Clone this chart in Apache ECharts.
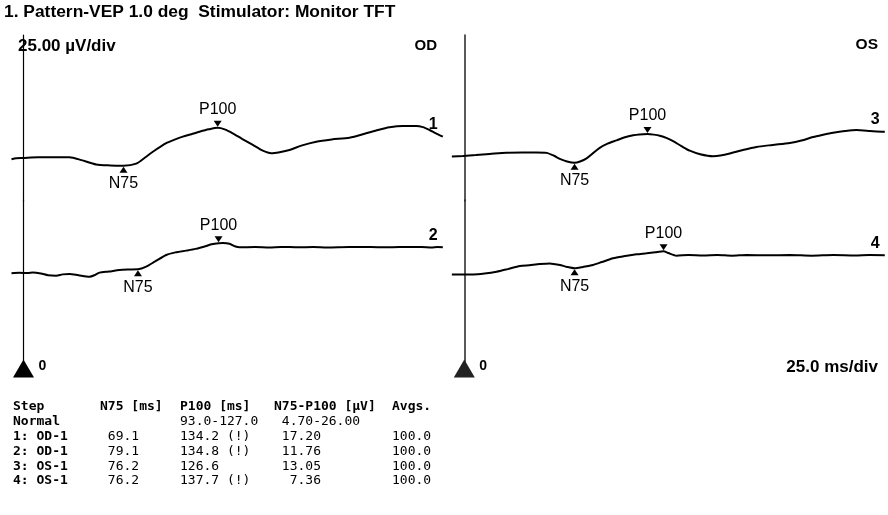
<!DOCTYPE html>
<html><head><meta charset="utf-8">
<script src="https://cdn.jsdelivr.net/npm/echarts@6/dist/echarts.min.js"></script>
<style>html,body{margin:0;padding:0;background:#fff}#c{width:888px;height:515px}</style>
</head><body><div id="c"></div>
<script>
// ---------- data ----------
const titleText = '1. Pattern-VEP 1.0 deg  Stimulator: Monitor TFT';
const voltScaleText = '25.00 \u00b5V/div';
const timeScaleText = '25.0 ms/div';
const eyeLabels = ['OD', 'OS'];
const originLabel = '0';
const traceNames = ['1', '2', '3', '4'];
const peakNames = ['N75', 'P100'];

// [ms, µV] samples
const trace1 = [[-8.3,-0.8],[-5,-0.3],[-0.5,-0.2],[10,0.1],[20,0.1],[31.8,0.1],[40,-1.2],[50.2,-3.2],[60,-3.6],[69.1,-3.7],[77.9,-2.8],[84,0.0],[89.4,2.6],[98.6,6.5],[104,8.0],[110.1,9.5],[116,10.6],[121.6,11.7],[128,12.8],[134.2,13.5],[139,12.8],[144.6,11.0],[151,8.5],[158.5,5.7],[165,3.2],[171.2,1.9],[177,2.4],[183.8,3.4],[192,5.4],[202.3,7.2],[213,8.2],[225.3,9.0],[236.8,11.0],[245,12.5],[252.9,13.7],[262,14.3],[271.4,14.3],[276,13.8],[280.6,12.5],[285,11.0],[289.8,9.5]];
const trace2 = [[-8.3,0.1],[-3,0.3],[3,0.2],[6.4,0.4],[12,0.0],[17,-0.8],[22.6,-1.0],[27,-0.4],[31.8,-0.2],[38,-0.8],[45.6,-1.5],[49,-0.8],[52.5,0.4],[59,0.9],[66.3,1.6],[72,1.8],[79.1,1.9],[84.8,3.1],[91,5.5],[98.6,8.4],[105,9.6],[112.4,10.4],[119,11.2],[126.3,12.5],[130,13.3],[134.8,13.8],[138,13.9],[142.4,13.5],[146,12.4],[149.3,11.9],[160,12.0],[170,11.8],[178,12.1],[190,11.9],[200,12.0],[210,11.8],[225,12.0],[240,12.0],[250,11.9],[260,12.0],[275,12.0],[282,11.8],[286,12.1],[289.8,11.9]];
const trace3 = [[-8.6,0.4],[-0.8,0.7],[8,1.1],[17.6,1.6],[29.2,2.2],[40,2.3],[50,2.3],[56.8,2.1],[62,0.8],[66,-0.6],[71,-1.8],[76.2,-2.4],[80,-1.8],[84.5,-0.4],[89,2.0],[93.6,4.4],[99,6.3],[105.2,7.8],[111,9.2],[116.7,10.1],[121,10.5],[126.6,10.7],[131,10.4],[135.1,9.9],[140,8.8],[144.3,7.4],[150,5.2],[155.8,3.1],[163,1.5],[171.9,0.6],[177,0.9],[183.5,1.8],[192,3.3],[201.9,4.8],[213,5.7],[225,6.6],[233,7.7],[241.1,9.3],[248,10.3],[254.9,11.2],[263,12.0],[271,12.5],[276,12.3],[280.2,12.0],[285,11.8],[290.6,11.7]];
const trace4 = [[-8.6,-0.4],[0,-0.4],[6.1,-0.4],[14,0.0],[22.3,0.8],[30,2.0],[38.4,3.4],[45,3.8],[52,4.3],[59.1,4.6],[63,4.2],[66,3.9],[71,3.0],[76.2,2.4],[82,3.0],[89,3.9],[95,5.2],[102.8,6.9],[110,7.8],[119,8.7],[126,9.2],[132,9.7],[137.7,10.1],[141,9.3],[146.7,8.1],[155,8.4],[165,8.2],[175,8.4],[185,8.1],[195,8.4],[210,8.3],[225,8.4],[240,8.1],[255,8.4],[270,8.2],[280,8.4],[290.6,8.3]];

// table
const tableHeaders = ['Step', 'N75 [ms]', 'P100 [ms]', 'N75-P100 [\u00b5V]', 'Avgs.'];
const normalRow = ['Normal', '', '93.0-127.0', '4.70-26.00', ''];
const stepLabels = ['1: OD-1', '2: OD-1', '3: OS-1', '4: OS-1'];
const n75Ms = [69.1, 79.1, 76.2, 76.2];
const p100Ms = [134.2, 134.8, 126.6, 137.7];
const p100Flags = [' (!)', ' (!)', '', ' (!)'];
const ampUv = ['17.20', '11.76', '13.05', '7.36'];
const avgs = ['100.0', '100.0', '100.0', '100.0'];

// ---------- layout ----------
const traces = [trace1, trace2, trace3, trace4];
const PX_PER_MS = 1.447, PX_PER_UV = 2.2;
const X_MIN = -10, X_MAX = 292;
const panelZeroX = [23.5, 464.3];
const rowTop = [35, 200], rowBottom = [201, 368.5], rowBase = [157.5, 273.5];
const axisColors = ['#000', '#222'];
const axisWidths = [1.2, 1.5];
const upTriangleRotated = 'path://M0,0L21,0L10.5,18Z';

function valueAt(trace, t) {
  for (let k = 1; k < trace.length; k++) {
    if (trace[k][0] >= t) {
      const a = trace[k - 1], b = trace[k];
      return a[1] + (b[1] - a[1]) * (t - a[0]) / (b[0] - a[0]);
    }
  }
  return trace[trace.length - 1][1];
}

const grids = [], xAxes = [], yAxes = [], series = [];
traces.forEach((tr, i) => {
  const panel = i < 2 ? 0 : 1;
  const row = i % 2;
  grids.push({
    left: panelZeroX[panel] + X_MIN * PX_PER_MS,
    width: (X_MAX - X_MIN) * PX_PER_MS,
    top: rowTop[row],
    height: rowBottom[row] - rowTop[row],
    containLabel: false,
    outerBoundsMode: 'none'
  });
  xAxes.push({
    type: 'value', gridIndex: i, min: X_MIN, max: X_MAX, show: false,
    axisLine: { onZero: false }
  });
  yAxes.push({
    type: 'value', gridIndex: i,
    min: -(rowBottom[row] - rowBase[row]) / PX_PER_UV,
    max: (rowBase[row] - rowTop[row]) / PX_PER_UV,
    axisLine: {
      show: true, onZero: true,
      lineStyle: { color: axisColors[panel], width: axisWidths[panel] },
      symbol: row === 1 ? [upTriangleRotated, 'none'] : ['none', 'none'],
      symbolSize: [21, 18]
    },
    axisTick: { show: false }, axisLabel: { show: false }, splitLine: { show: false }
  });
  series.push({
    type: 'line', xAxisIndex: i, yAxisIndex: i, data: tr,
    showSymbol: false, smooth: 0.25, silent: true, animation: false,
    lineStyle: { color: '#000', width: 2 },
    endLabel: {
      show: true, formatter: traceNames[i], color: '#000',
      fontFamily: '"Liberation Sans", Arial, sans-serif', fontWeight: 'bold', fontSize: 16,
      offset: [-22, -12]
    },
    markPoint: {
      silent: true, animation: false,
      itemStyle: { color: '#000' },
      label: { color: '#000', fontFamily: '"Liberation Sans", Arial, sans-serif', fontSize: 16 },
      data: [
        { coord: [n75Ms[i], valueAt(tr, n75Ms[i])], symbol: 'triangle', symbolSize: [8, 6], symbolOffset: [0, 4],
          label: { show: true, formatter: peakNames[0], position: 'bottom', distance: 3 } },
        { coord: [p100Ms[i], valueAt(tr, p100Ms[i])], symbol: 'path://M0,0L2,0L1,1.5Z', symbolSize: [8, 6], symbolOffset: [0, -4],
          label: { show: true, formatter: peakNames[1], position: 'top', distance: 3 } }
      ]
    }
  });
});

// ---------- texts ----------
const sansBold = (s) => 'bold ' + s + 'px "Liberation Sans", Arial, sans-serif';
const mono = '13px "DejaVu Sans Mono", monospace';
const monoBold = 'bold 13px "DejaVu Sans Mono", monospace';
const charW = 13 * 0.602;
function txt(x, y, text, font, align) {
  return { type: 'text', x: x, y: y, silent: true,
    style: { text: text, font: font, fill: '#000', align: align || 'left', verticalAlign: 'middle' } };
}
const graphics = [
  txt(4, 12, titleText, sansBold(17.4)),
  txt(18, 46, voltScaleText, sansBold(17)),
  txt(437, 46, eyeLabels[0], sansBold(15), 'right'),
  txt(878, 45, eyeLabels[1], sansBold(15.5), 'right'),
  txt(panelZeroX[0] + 15, 366, originLabel, sansBold(14)),
  txt(panelZeroX[1] + 15, 366, originLabel, sansBold(14)),
  txt(878, 367, timeScaleText, sansBold(17), 'right')
];
const colX = [13, 100, 180, 274, 392];
const rowY0 = 407, rowDY = 14.8;
tableHeaders.forEach((h, c) => graphics.push(txt(colX[c], rowY0, h, monoBold)));
graphics.push(txt(colX[0], rowY0 + rowDY, normalRow[0], monoBold));
graphics.push(txt(colX[2], rowY0 + rowDY, normalRow[2], mono));
graphics.push(txt(colX[3] + charW, rowY0 + rowDY, normalRow[3], mono));
stepLabels.forEach((s, r) => {
  const y = rowY0 + rowDY * (r + 2);
  graphics.push(txt(colX[0], y, s, monoBold));
  graphics.push(txt(colX[1] + 5 * charW, y, n75Ms[r].toFixed(1), mono, 'right'));
  graphics.push(txt(colX[2], y, p100Ms[r].toFixed(1) + p100Flags[r], mono));
  graphics.push(txt(colX[3] + 6 * charW, y, ampUv[r], mono, 'right'));
  graphics.push(txt(colX[4], y, avgs[r], mono));
});

const chart = echarts.init(document.getElementById('c'), null, { renderer: 'canvas' });
chart.setOption({
  animation: false,
  backgroundColor: '#fff',
  grid: grids, xAxis: xAxes, yAxis: yAxes, series: series,
  graphic: graphics
});
</script></body></html>
